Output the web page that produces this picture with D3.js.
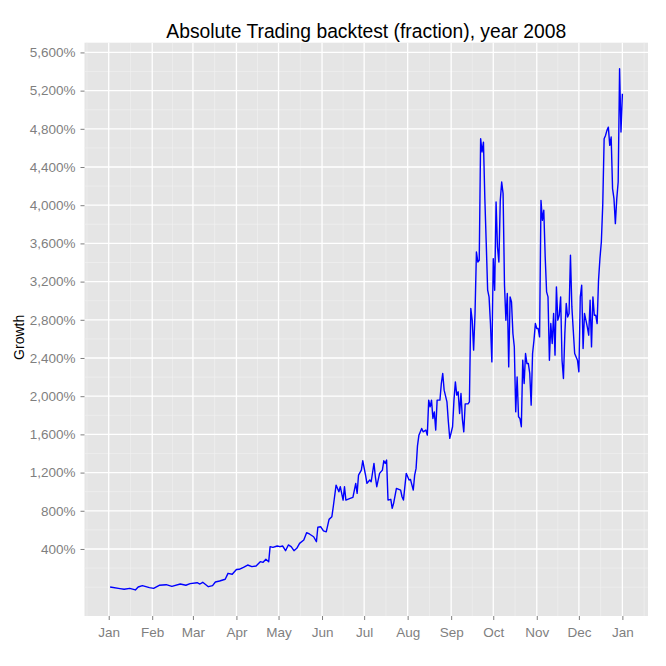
<!DOCTYPE html>
<html>
<head>
<meta charset="utf-8">
<script src="https://cdn.jsdelivr.net/npm/d3@7"></script>
<style>
  html, body { margin: 0; padding: 0; background: #ffffff; }
  svg { display: block; font-family: "Liberation Sans", Arial, Helvetica, sans-serif; }
</style>
</head>
<body>
<svg id="chart" width="666" height="666"></svg>
<script>
// ---------- data ----------
const titleText = "Absolute Trading backtest (fraction), year 2008";
const yLabel = "Growth";

const dates = [
  "2008-01-02","2008-01-09","2008-01-12","2008-01-16","2008-01-20","2008-01-22","2008-01-25","2008-01-30",
  "2008-02-02","2008-02-06","2008-02-11","2008-02-15","2008-02-21","2008-02-25","2008-02-28",
  "2008-03-04","2008-03-06","2008-03-08","2008-03-12","2008-03-15","2008-03-17","2008-03-20","2008-03-24","2008-03-26","2008-03-29",
  "2008-04-01","2008-04-03","2008-04-06","2008-04-09","2008-04-12","2008-04-15","2008-04-18","2008-04-20","2008-04-22","2008-04-24","2008-04-25","2008-04-27","2008-04-30",
  "2008-05-02","2008-05-04","2008-05-06","2008-05-08","2008-05-10","2008-05-12","2008-05-14","2008-05-16","2008-05-19","2008-05-21","2008-05-23","2008-05-26","2008-05-28","2008-05-29","2008-05-31",
  "2008-06-02","2008-06-04","2008-06-06","2008-06-08","2008-06-09","2008-06-11","2008-06-13","2008-06-14","2008-06-16","2008-06-17","2008-06-18","2008-06-21","2008-06-23","2008-06-25","2008-06-26","2008-06-27","2008-06-29","2008-06-30",
  "2008-07-02","2008-07-03","2008-07-05","2008-07-06","2008-07-08","2008-07-09","2008-07-10","2008-07-12","2008-07-14","2008-07-15","2008-07-16","2008-07-17","2008-07-18","2008-07-20","2008-07-21","2008-07-22","2008-07-24","2008-07-27","2008-07-28","2008-07-29","2008-07-31",
  "2008-08-02","2008-08-03","2008-08-05","2008-08-06","2008-08-07","2008-08-08","2008-08-09","2008-08-11","2008-08-12","2008-08-14","2008-08-15","2008-08-16","2008-08-17","2008-08-18","2008-08-19","2008-08-20","2008-08-21","2008-08-22","2008-08-24","2008-08-25","2008-08-26","2008-08-27","2008-08-29","2008-08-30","2008-08-31",
  "2008-09-02","2008-09-03","2008-09-04","2008-09-05","2008-09-06","2008-09-07","2008-09-08","2008-09-09","2008-09-10","2008-09-11","2008-09-13","2008-09-14","2008-09-15","2008-09-16","2008-09-17","2008-09-18","2008-09-19","2008-09-20","2008-09-21","2008-09-22","2008-09-23","2008-09-24","2008-09-25","2008-09-26","2008-09-27","2008-09-28","2008-09-29","2008-09-30",
  "2008-10-01","2008-10-02","2008-10-03","2008-10-04","2008-10-05","2008-10-06","2008-10-07","2008-10-08","2008-10-09","2008-10-10","2008-10-11","2008-10-12","2008-10-13","2008-10-14","2008-10-15","2008-10-16","2008-10-17","2008-10-18","2008-10-19","2008-10-20","2008-10-21","2008-10-22","2008-10-23","2008-10-24","2008-10-25","2008-10-26","2008-10-27","2008-10-28","2008-10-29","2008-10-30","2008-10-31",
  "2008-11-01","2008-11-02","2008-11-03","2008-11-04","2008-11-05","2008-11-06","2008-11-07","2008-11-08","2008-11-09","2008-11-10","2008-11-11","2008-11-12","2008-11-13","2008-11-14","2008-11-15","2008-11-16","2008-11-17","2008-11-18","2008-11-19","2008-11-20","2008-11-21","2008-11-22","2008-11-23","2008-11-24","2008-11-25","2008-11-26","2008-11-27","2008-11-28","2008-11-30",
  "2008-12-01","2008-12-02","2008-12-03","2008-12-04","2008-12-05","2008-12-06","2008-12-07","2008-12-08","2008-12-09","2008-12-10","2008-12-11","2008-12-12","2008-12-13","2008-12-14","2008-12-15","2008-12-16","2008-12-17","2008-12-18","2008-12-19","2008-12-20","2008-12-21","2008-12-22","2008-12-23","2008-12-24","2008-12-25","2008-12-26","2008-12-27","2008-12-28","2008-12-29","2008-12-30","2008-12-31",
  "2009-01-01"
];

// growth in percent
const growth = [
  2,-15,-22,-12,-29,2,16,-5,
  -12,20,26,9,33,20,37,
  47,33,51,5,16,54,65,83,145,135,
  185,187,208,232,215,222,267,260,292,267,424,417,431,
  424,431,382,442,424,382,407,459,494,570,557,528,476,627,633,
  590,580,710,738,842,1069,999,1052,912,1052,912,930,940,1087,982,1174,1226,1324,
  1174,1087,1122,1104,1296,1156,1052,1192,1226,1324,1296,1331,912,920,826,878,1035,1017,947,912,1192,
  1122,1129,1017,1174,1244,1480,1590,1662,1627,1645,1592,1959,1889,1959,1767,1836,1645,1959,1959,2133,2238,2063,1941,1732,1558,
  1680,1959,2150,2011,2046,1819,2029,1760,1627,1920,1920,1940,2918,2796,2482,2866,3510,3406,3424,4697,4557,4661,4069,3598,3110,3040,2761,2359,
  3441,3110,4034,3563,3406,4051,4243,4121,3162,2796,3075,2307,3040,2987,2657,2516,1836,2202,1784,1767,1680,2377,2133,2447,2342,2342,2238,1906,2447,2586,2761,
  2709,2709,2621,4051,3842,3947,3458,3092,3040,2377,2761,2552,2866,2430,3145,2796,2848,3040,2377,2186,2657,2971,2830,2866,3476,2935,2691,2447,2377,
  2255,3040,3162,2500,2866,2796,2726,2639,3005,2516,3040,2848,2848,2761,3214,3441,3615,4000,4697,4731,4784,4818,4627,4714,4174,4069,3807,4069,4243,5429,4766,
  5167
];

const yTicks = [400,800,1200,1600,2000,2400,2800,3200,3600,4000,4400,4800,5200,5600];
const yMinor = [0,200,600,1000,1400,1800,2200,2600,3000,3400,3800,4200,4600,5000,5400];
const xTicks = ["2008-01-01","2008-02-01","2008-03-01","2008-04-01","2008-05-01","2008-06-01","2008-07-01",
                "2008-08-01","2008-09-01","2008-10-01","2008-11-01","2008-12-01","2009-01-01"];
const xTickLabels = ["Jan","Feb","Mar","Apr","May","Jun","Jul","Aug","Sep","Oct","Nov","Dec","Jan"];

// ---------- layout ----------
const W = 666, H = 666;
const panel = { left: 84.5, right: 648, top: 42.7, bottom: 616 };

const parse = d3.timeParse("%Y-%m-%d");
const data = dates.map((d, i) => ({ date: parse(d), value: growth[i] }));

const xExt = d3.extent(data, d => d.date);
const xSpan = xExt[1] - xExt[0];
const x = d3.scaleTime()
  .domain([new Date(+xExt[0] - 0.05 * xSpan), new Date(+xExt[1] + 0.05 * xSpan)])
  .range([panel.left, panel.right]);

const yExt = d3.extent(growth);
const ySpan = yExt[1] - yExt[0];
const y = d3.scaleLinear()
  .domain([yExt[0] - 0.05 * ySpan, yExt[1] + 0.05 * ySpan])
  .range([panel.bottom, panel.top]);

const svg = d3.select("#chart");
svg.append("rect").attr("width", W).attr("height", H).attr("fill", "#ffffff");

// panel background
svg.append("rect")
  .attr("x", panel.left).attr("y", panel.top)
  .attr("width", panel.right - panel.left).attr("height", panel.bottom - panel.top)
  .attr("fill", "#e5e5e5");

const grid = svg.append("g");
const xTickDates = xTicks.map(parse);
const xMinor = [];
for (let i = 0; i < xTickDates.length - 1; i++) {
  xMinor.push(new Date((+xTickDates[i] + +xTickDates[i + 1]) / 2));
}
xMinor.unshift(new Date(+xTickDates[0] - (+xTickDates[1] - +xTickDates[0]) / 2));
xMinor.push(new Date(+xTickDates[xTickDates.length - 1] + (+xTickDates[1] - +xTickDates[0]) / 2));

const xd = x.domain(), yd = y.domain();
grid.selectAll(".ymin").data(yMinor.filter(v => v > yd[0] && v < yd[1])).join("line")
  .attr("x1", panel.left).attr("x2", panel.right)
  .attr("y1", d => y(d)).attr("y2", d => y(d))
  .attr("stroke", "#f2f2f2").attr("stroke-width", 0.6);
grid.selectAll(".xmin").data(xMinor.filter(d => d > xd[0] && d < xd[1])).join("line")
  .attr("y1", panel.top).attr("y2", panel.bottom)
  .attr("x1", d => x(d)).attr("x2", d => x(d))
  .attr("stroke", "#f2f2f2").attr("stroke-width", 0.6);
grid.selectAll(".ymaj").data(yTicks).join("line")
  .attr("x1", panel.left).attr("x2", panel.right)
  .attr("y1", d => y(d)).attr("y2", d => y(d))
  .attr("stroke", "#ffffff").attr("stroke-width", 1.3);
grid.selectAll(".xmaj").data(xTickDates).join("line")
  .attr("y1", panel.top).attr("y2", panel.bottom)
  .attr("x1", d => x(d)).attr("x2", d => x(d))
  .attr("stroke", "#ffffff").attr("stroke-width", 1.3);

// line
const line = d3.line().x(d => x(d.date)).y(d => y(d.value));
svg.append("path").datum(data)
  .attr("d", line)
  .attr("fill", "none")
  .attr("stroke", "#0000ff")
  .attr("stroke-width", 1.4)
  .attr("stroke-linejoin", "round");

// axes
const fmt = d3.format(",");
const yAxis = d3.axisLeft(y).tickValues(yTicks).tickFormat(d => fmt(d) + "%").tickSize(4).tickPadding(5);
const gy = svg.append("g").attr("transform", `translate(${panel.left},0)`).call(yAxis);
const xAxis = d3.axisBottom(x).tickValues(xTickDates).tickFormat((d, i) => xTickLabels[i]).tickSize(4).tickPadding(7);
const gx = svg.append("g").attr("transform", `translate(0,${panel.bottom})`).call(xAxis);

[gx, gy].forEach(g => {
  g.select(".domain").remove();
  g.selectAll(".tick line").attr("stroke", "#7f7f7f").attr("stroke-width", 1);
  g.selectAll(".tick text").attr("fill", "#7f7f7f")
    .style("font-size", "13.5px")
    .style("font-family", "'Liberation Sans', Arial, Helvetica, sans-serif");
});

// title
svg.append("text")
  .attr("x", (panel.left + panel.right) / 2)
  .attr("y", 38)
  .attr("text-anchor", "middle")
  .attr("fill", "#000000")
  .style("font-size", "19.3px")
  .text(titleText);

// y label
svg.append("text")
  .attr("transform", `translate(24,${(panel.top + panel.bottom) / 2 + 8}) rotate(-90)`)
  .attr("text-anchor", "middle")
  .attr("fill", "#000000")
  .style("font-size", "14px")
  .text(yLabel);
</script>
</body>
</html>
